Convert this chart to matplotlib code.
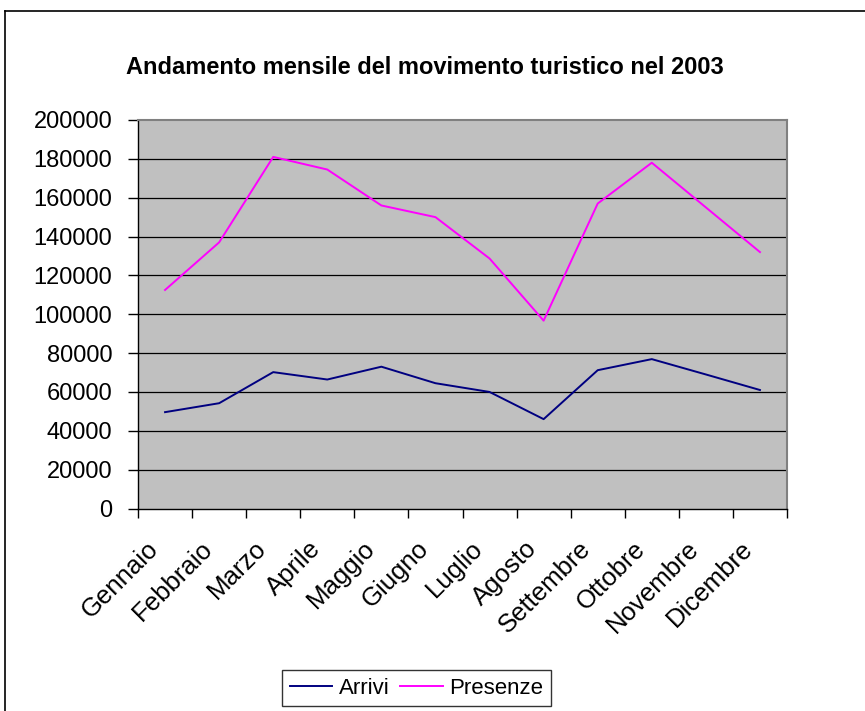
import numpy as np
import matplotlib
matplotlib.use('Agg')
import matplotlib.pyplot as plt
import matplotlib.transforms as mtransforms
from matplotlib.lines import Line2D

plt.rcParams['font.family'] = ['Liberation Sans', 'DejaVu Sans']

mesi = ['Gennaio', 'Febbraio', 'Marzo', 'Aprile', 'Maggio', 'Giugno',
        'Luglio', 'Agosto', 'Settembre', 'Ottobre', 'Novembre', 'Dicembre']
arrivi = [49600, 54200, 70200, 66400, 73000, 64500,
          60000, 46000, 71200, 76900, 69000, 61000]
presenze = [112500, 137000, 181000, 174500, 156000, 150000,
            128700, 96700, 157000, 178000, 155000, 132000]
y_ticks = list(range(0, 200001, 20000))

W, H = 865, 711
fig = plt.figure(figsize=(W / 100, H / 100), dpi=100)

# chart area border (only top and left visible in the crop)
fig.add_artist(Line2D([5 / W, 1], [1 - 11 / H, 1 - 11 / H], color='black', lw=1.2,
                      transform=fig.transFigure))
fig.add_artist(Line2D([5 / W, 5 / W], [0, 1 - 11 / H], color='black', lw=1.2,
                      transform=fig.transFigure))

left, right, top, bottom = 138, 787, 120, 508.5
ax = fig.add_axes([left / W, 1 - bottom / H, (right - left) / W, (bottom - top) / H])
ax.set_facecolor('#C0C0C0')

x = np.arange(len(mesi))
ax.plot(x, arrivi, color='#000080', lw=1.4, label='Arrivi', zorder=3)
ax.plot(x, presenze, color='#FF00FF', lw=1.4, label='Presenze', zorder=3)

ax.set_xlim(-0.5, len(mesi) - 0.5)
ax.set_ylim(0, 200000)
ax.set_yticks(y_ticks)
ax.set_yticklabels([str(v) for v in y_ticks], fontsize=17)
for v in y_ticks[1:-1]:
    ax.axhline(v, color='black', lw=0.9, zorder=1)

# ticks at category boundaries, labels at centres (drawn as texts)
ax.set_xticks(np.arange(-0.5, len(mesi)))
ax.set_xticklabels([])
ax.tick_params(axis='x', length=6.5, width=1, direction='out')
ax.tick_params(axis='y', length=7, width=1, direction='out', pad=11.5)

lbl_tr = mtransforms.blended_transform_factory(ax.transData, ax.transAxes) + \
    mtransforms.ScaledTranslation(-19 / 100, -28 / 100, fig.dpi_scale_trans)
for i, m in enumerate(mesi):
    ax.text(i, 0, m, transform=lbl_tr, rotation=45, ha='right', va='top',
            rotation_mode='anchor', fontsize=18.5, clip_on=False)

for s in ['top', 'right']:
    ax.spines[s].set_color('#808080')
    ax.spines[s].set_linewidth(1.5)
for s in ['left', 'bottom']:
    ax.spines[s].set_color('black')
    ax.spines[s].set_linewidth(1)

fig.text(425 / W, 1 - 68 / H, 'Andamento mensile del movimento turistico nel 2003',
         ha='center', va='center', fontsize=17, fontweight='bold')

leg = fig.legend(loc='center', bbox_to_anchor=(416.5 / W, 1 - 688 / H), ncol=2,
                 fontsize=16, frameon=True, fancybox=False, handlelength=1.9,
                 handletextpad=0.3, columnspacing=0.5, borderpad=0.35,
                 borderaxespad=0)
leg.get_frame().set_edgecolor('black')
leg.get_frame().set_linewidth(1)

fig.savefig('out.png', dpi=100)
